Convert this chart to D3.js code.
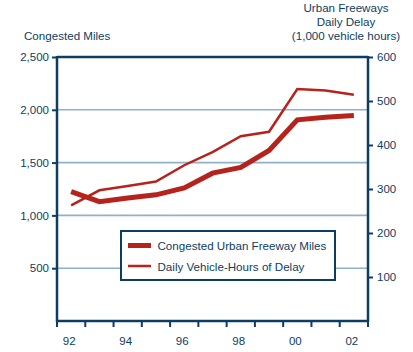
<!DOCTYPE html>
<html>
<head>
<meta charset="utf-8">
<script src="https://cdn.jsdelivr.net/npm/d3@7"></script>
<style>
  html, body { margin: 0; padding: 0; background: #ffffff; }
  svg { display: block; }
</style>
</head>
<body>
<div id="chart"></div>
<script>
(function () {
  "use strict";

  // Chart data
  const years = ["92", "93", "94", "95", "96", "97", "98", "99", "00", "01", "02"];
  const congestedMiles = [1225, 1130, 1165, 1195, 1260, 1400, 1455, 1615, 1905, 1930, 1945];
  const delayHours = [263, 297, 307, 317, 354, 384, 420, 430, 527, 524, 514];
  const leftTicks = [500, 1000, 1500, 2000, 2500];
  const rightTicks = [100, 200, 300, 400, 500, 600];
  const yearLabels = ["92", "94", "96", "98", "00", "02"];

  const W = 413, H = 352;
  const NAVY = "#0d3d63";
  const RED = "#b5231c";
  const GRID = "#8fb1ca";
  const FONT = "'Liberation Sans', Arial, Helvetica, sans-serif";
  const FS = "11.6px";

  const m = { top: 57, right: 45, bottom: 31, left: 57 };
  const iw = W - m.left - m.right;
  const ih = H - m.top - m.bottom;

  const svg = d3.select("#chart").append("svg")
    .attr("width", W).attr("height", H);

  const g = svg.append("g").attr("transform", `translate(${m.left},${m.top})`);

  // Scales
  const x = d3.scaleBand().domain(years).range([0, iw]).padding(0);
  const xc = d => x(d) + x.bandwidth() / 2;
  const yL = d3.scaleLinear().domain([0, 2500]).range([ih, 0]);
  const yR = d3.scaleLinear().domain([0, 600]).range([ih, 0]);

  // Gridlines
  g.selectAll("line.grid")
    .data(leftTicks.filter(t => t < 2500))
    .enter().append("line")
    .attr("class", "grid")
    .attr("x1", 0).attr("x2", iw)
    .attr("y1", d => yL(d)).attr("y2", d => yL(d))
    .attr("stroke", GRID).attr("stroke-width", 1.6);

  // Frame top
  g.append("line").attr("x1", 0).attr("x2", iw).attr("y1", 0).attr("y2", 0)
    .attr("stroke", NAVY).attr("stroke-width", 2.5);

  function styleAxis(sel) {
    sel.select(".domain").remove();
    sel.selectAll(".tick line").attr("stroke", NAVY).attr("stroke-width", 2);
    sel.selectAll(".tick text").attr("fill", NAVY)
      .attr("font-family", FONT).attr("font-size", "11.5px");
  }

  // Left axis
  const gl = g.append("g")
    .call(d3.axisLeft(yL).tickValues(leftTicks).tickSize(5).tickPadding(3)
      .tickFormat(d3.format(",")));
  styleAxis(gl);
  g.append("line").attr("x1", 0).attr("x2", 0).attr("y1", -1).attr("y2", ih + 1)
    .attr("stroke", NAVY).attr("stroke-width", 2.5);

  // Right axis
  const gr = g.append("g").attr("transform", `translate(${iw},0)`)
    .call(d3.axisRight(yR).tickValues(rightTicks).tickSize(5).tickPadding(4));
  styleAxis(gr);
  g.append("line").attr("x1", iw).attr("x2", iw).attr("y1", -1).attr("y2", ih + 1)
    .attr("stroke", NAVY).attr("stroke-width", 2.5);

  // Bottom axis: ticks at band edges, labels at band centres
  const edges = years.map(d => x(d)).concat([iw]);
  const gb = g.append("g").attr("transform", `translate(0,${ih})`);
  gb.append("line").attr("x1", 0).attr("x2", iw).attr("y1", 0).attr("y2", 0)
    .attr("stroke", NAVY).attr("stroke-width", 2.5);
  gb.selectAll("line.xt").data(edges).enter().append("line")
    .attr("class", "xt")
    .attr("x1", d => d).attr("x2", d => d).attr("y1", 0).attr("y2", 6)
    .attr("stroke", NAVY).attr("stroke-width", 2);
  gb.selectAll("text.xl").data(yearLabels).enter().append("text")
    .attr("class", "xl")
    .attr("x", d => xc(d) - 2).attr("y", 24)
    .attr("text-anchor", "middle").attr("fill", NAVY)
    .attr("font-family", FONT).attr("font-size", "11.5px")
    .text(d => d);

  // Lines
  const lineMiles = d3.line().x((d, i) => xc(years[i])).y(d => yL(d));
  const lineDelay = d3.line().x((d, i) => xc(years[i])).y(d => yR(d));

  g.append("path").datum(delayHours)
    .attr("d", lineDelay).attr("fill", "none")
    .attr("stroke", RED).attr("stroke-width", 2.5).attr("stroke-linejoin", "miter");
  g.append("path").datum(congestedMiles)
    .attr("d", lineMiles).attr("fill", "none")
    .attr("stroke", RED).attr("stroke-width", 5).attr("stroke-linejoin", "miter");

  // Legend
  const lg = svg.append("g").attr("transform", "translate(121,231)");
  lg.append("rect").attr("x", 0).attr("y", 0).attr("width", 214).attr("height", 49)
    .attr("fill", "#ffffff").attr("stroke", NAVY).attr("stroke-width", 2);
  const legendItems = [
    { label: "Congested Urban Freeway Miles", w: 5 },
    { label: "Daily Vehicle-Hours of Delay", w: 2.5 }
  ];
  legendItems.forEach((it, i) => {
    const yy = 14.5 + i * 20.5;
    lg.append("line").attr("x1", 7).attr("x2", 30).attr("y1", yy).attr("y2", yy)
      .attr("stroke", RED).attr("stroke-width", it.w);
    lg.append("text").attr("x", 36.5).attr("y", yy + 4.5)
      .attr("fill", NAVY).attr("font-family", FONT).attr("font-size", FS)
      .text(it.label);
  });

  // Titles
  svg.append("text").attr("x", 24).attr("y", 40)
    .attr("fill", NAVY).attr("font-family", FONT).attr("font-size", FS)
    .text("Congested Miles");
  const rt = ["Urban Freeways", "Daily Delay", "(1,000 vehicle hours)"];
  rt.forEach((t, i) => {
    svg.append("text").attr("x", 346).attr("y", 12 + i * 14)
      .attr("text-anchor", "middle")
      .attr("fill", NAVY).attr("font-family", FONT).attr("font-size", FS)
      .text(t);
  });
})();
</script>
</body>
</html>
